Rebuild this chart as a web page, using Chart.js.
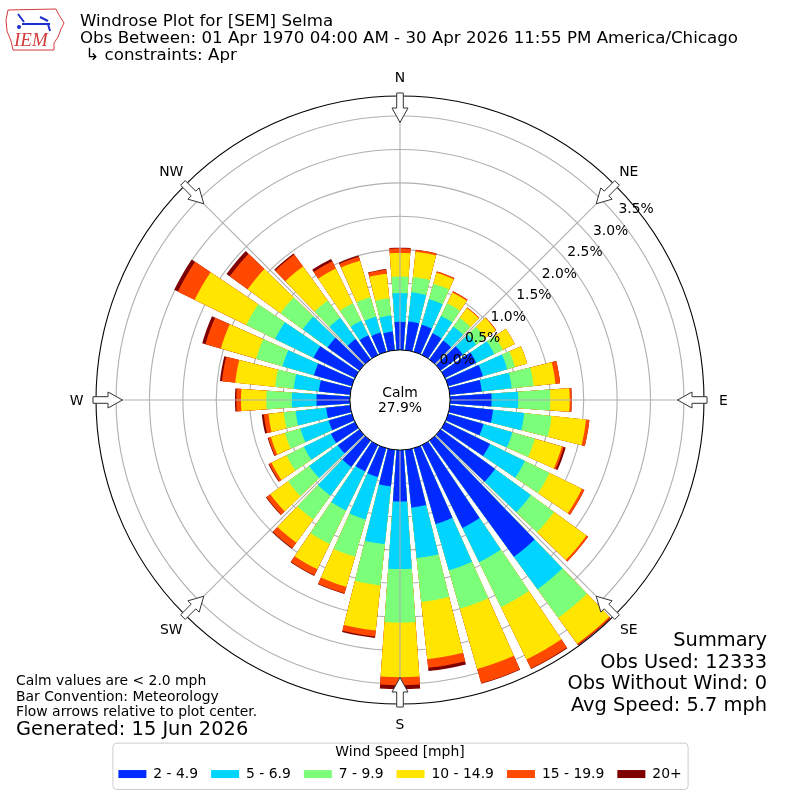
<!DOCTYPE html>
<html>
<head>
<meta charset="utf-8">
<title>Windrose Plot for [SEM] Selma</title>
<script src="https://cdn.jsdelivr.net/npm/chart.js@4.4.1/dist/chart.umd.min.js"></script>
<style>
  html, body { margin: 0; padding: 0; background: #fff; }
  body { width: 800px; height: 800px; position: relative; overflow: hidden; font-family: "DejaVu Sans", sans-serif; color: #000; }
  #rose { position: absolute; left: 0; top: 0; }
  .note { position: absolute; white-space: pre; }
  #logo { position: absolute; left: 4px; top: 4px; }
  #header { left: 80px; top: 12px; font-size: 16.67px; line-height: 17px; }
  #footnotes { left: 16px; top: 673px; font-size: 13.9px; line-height: 15.5px; }
  #generated { left: 16px; top: 718px; font-size: 19.4px; line-height: 21.5px; }
  #summary { right: 33px; top: 629px; font-size: 19.4px; line-height: 21.5px; text-align: right; }
</style>
</head>
<body>
<canvas id="rose" width="800" height="800"></canvas>

<svg id="logo" width="64" height="48" viewBox="0 0 64 48">
  <path d="M4 6 L52 5 L55 11 L60 19 L57 25 L54 33 L50 39 L50 46 L9 46 L7 37 L3 27 L2 16 Z" fill="none" stroke="#d23b3b" stroke-width="1"/>
  <path d="M14 10 L20 18 M18 20 L46 20 M36 13 L44 17 M44 20 L46 27" fill="none" stroke="#1e2fd0" stroke-width="2"/>
  <circle cx="15" cy="23" r="2" fill="#1e2fd0"/>
  <text x="10" y="42" font-family="Liberation Serif, serif" font-style="italic" font-size="19" fill="#d23b3b">IEM</text>
</svg>

<div id="header" class="note">Windrose Plot for [SEM] Selma
Obs Between: 01 Apr 1970 04:00 AM - 30 Apr 2026 11:55 PM America/Chicago
 ↳ constraints: Apr</div>

<div id="footnotes" class="note">Calm values are &lt; 2.0 mph
Bar Convention: Meteorology
Flow arrows relative to plot center.</div>
<div id="generated" class="note">Generated: 15 Jun 2026</div>

<div id="summary" class="note"></div>

<script>
// wind directions (degrees, meteorological) and frequency (%) per speed bin
const directions = [0, 10, 20, 30, 40, 50, 60, 70, 80, 90, 100, 110, 120, 130, 140, 150, 160, 170,
                    180, 190, 200, 210, 220, 230, 240, 250, 260, 270, 280, 290, 300, 310, 320, 330, 340, 350];

const speed2to5 = [0.42, 0.43, 0.42, 0.36, 0.35, 0.41, 0.52, 0.54, 0.48, 0.62, 0.65, 0.55, 0.75, 1.01, 2.15, 1.38, 1.18, 0.87,
                   0.77, 0.55, 0.45, 0.44, 0.49, 0.40, 0.40, 0.36, 0.36, 0.50, 0.47, 0.59, 0.69, 0.59, 0.38, 0.33, 0.30, 0.28];
const speed5to7 = [0.43, 0.44, 0.40, 0.29, 0.26, 0.25, 0.30, 0.38, 0.45, 0.40, 0.47, 0.45, 0.58, 0.66, 0.60, 0.57, 0.72, 0.76,
                   1.01, 0.87, 0.66, 0.65, 0.53, 0.53, 0.45, 0.44, 0.46, 0.37, 0.38, 0.49, 0.64, 0.46, 0.39, 0.24, 0.25, 0.24];
const speed7to10 = [0.25, 0.23, 0.24, 0.21, 0.16, 0.17, 0.14, 0.12, 0.33, 0.48, 0.41, 0.35, 0.41, 0.43, 0.53, 0.75, 0.60, 0.66,
                    0.80, 0.62, 0.58, 0.56, 0.44, 0.39, 0.29, 0.24, 0.18, 0.38, 0.28, 0.41, 0.48, 0.41, 0.32, 0.29, 0.30, 0.26];
const speed10to15 = [0.35, 0.38, 0.17, 0.18, 0.18, 0.19, 0.20, 0.19, 0.33, 0.29, 0.52, 0.42, 0.54, 0.60, 0.48, 0.87, 0.94, 0.86,
                     0.82, 0.68, 0.47, 0.42, 0.43, 0.33, 0.25, 0.22, 0.23, 0.38, 0.60, 0.55, 0.86, 0.61, 0.63, 0.58, 0.57, 0.37];
const speed15to20 = [0.07, 0.03, 0.02, 0.02, 0.01, 0.01, 0.00, 0.00, 0.07, 0.03, 0.05, 0.03, 0.04, 0.03, 0.02, 0.15, 0.22, 0.13,
                     0.12, 0.09, 0.10, 0.10, 0.10, 0.07, 0.04, 0.04, 0.07, 0.07, 0.20, 0.24, 0.28, 0.33, 0.22, 0.12, 0.06, 0.06];
const speed20up = [0.01, 0.00, 0.00, 0.00, 0.00, 0.00, 0.00, 0.00, 0.00, 0.00, 0.00, 0.03, 0.00, 0.00, 0.01, 0.01, 0.01, 0.05,
                   0.06, 0.02, 0.01, 0.01, 0.01, 0.01, 0.01, 0.01, 0.03, 0.02, 0.03, 0.05, 0.06, 0.06, 0.02, 0.04, 0.02, 0.01];

const speedBins = ["2 - 4.9", "5 - 6.9", "7 - 9.9", "10 - 14.9", "15 - 19.9", "20+"];
const binColors = ["#002aff", "#00d4ff", "#7bff7b", "#ffe500", "#ff4800", "#7f0000"];
const ringTicks = [0, 0.5, 1, 1.5, 2, 2.5, 3, 3.5, 3.8];
const compassLabels = ["N", "NE", "E", "SE", "S", "SW", "W", "NW"];
const calmPercent = 27.9;
const obsUsed = 12333;
const obsWithoutWind = 0;
const avgSpeed = 5.7;

document.getElementById("summary").textContent =
  `Summary\nObs Used: ${obsUsed}\nObs Without Wind: ${obsWithoutWind}\nAvg Speed: ${avgSpeed} mph`;

const FONT = "'DejaVu Sans', sans-serif";
Chart.defaults.font.family = FONT;
Chart.defaults.color = "#000";

const speedSeries = [speed2to5, speed5to7, speed7to10, speed10to15, speed15to20, speed20up];

// stacked totals: each dataset reaches the top of its own speed bin
const stacked = speedSeries.map((_, level) =>
  directions.map((d, i) => speedSeries.slice(0, level + 1).reduce((sum, s) => sum + s[i], 0)));

// wedges go clockwise from north: half of N, then gap/bar pairs, closing with the other half of N
function toWedges(values) {
  const out = [values[0]];
  for (let i = 1; i < values.length; i++) out.push(0, values[i]);
  out.push(0, values[0]);
  return out;
}
const wedgeLabels = toWedges(directions.map(String)).map(v => (v === 0 ? "" : v));
const lastWedge = wedgeLabels.length - 1;
const barDeg = 8, gapDeg = 2;
function wedgeAngle(ctx) {
  const i = ctx.dataIndex;
  if (i === 0 || i === lastWedge) return barDeg / 2;
  return i % 2 ? gapDeg : barDeg;
}

function drawArrow(ctx, cx, cy, deg, rTail, rNeck, rTip, shaftHalf, headHalf) {
  const a = deg * Math.PI / 180;
  const ux = Math.sin(a), uy = -Math.cos(a);
  const px = -uy, py = ux;
  const pt = (r, w) => [cx + ux * r + px * w, cy + uy * r + py * w];
  const pts = [pt(rTail, -shaftHalf), pt(rTail, shaftHalf), pt(rNeck, shaftHalf), pt(rNeck, headHalf),
               pt(rTip, 0), pt(rNeck, -headHalf), pt(rNeck, -shaftHalf)];
  ctx.beginPath();
  pts.forEach(([x, y], k) => (k ? ctx.lineTo(x, y) : ctx.moveTo(x, y)));
  ctx.closePath();
  ctx.fillStyle = "#fff";
  ctx.fill();
  ctx.strokeStyle = "#333";
  ctx.lineWidth = 1;
  ctx.stroke();
}

const roseDecor = {
  id: "roseDecor",
  beforeDraw(chart) {
    // legend frame
    const lg = chart.legend;
    if (!lg || !lg.legendHitBoxes || !lg.legendHitBoxes.length) return;
    const boxes = lg.legendHitBoxes;
    const left = Math.min(...boxes.map(b => b.left)) - 6;
    const right = Math.max(...boxes.map(b => b.left + b.width)) + 6;
    const top = lg.top + 1.5, bottom = lg.bottom - 2;
    const ctx = chart.ctx;
    ctx.save();
    ctx.beginPath();
    if (ctx.roundRect) ctx.roundRect(left + 0.5, top + 0.5, right - left, bottom - top, 4);
    else ctx.rect(left + 0.5, top + 0.5, right - left, bottom - top);
    ctx.fillStyle = "#fff";
    ctx.fill();
    ctx.strokeStyle = "#cccccc";
    ctx.lineWidth = 1;
    ctx.stroke();
    ctx.restore();
  },
  afterDraw(chart) {
    const s = chart.scales.r;
    const ctx = chart.ctx;
    const cx = s.xCenter, cy = s.yCenter, R = s.drawingArea;
    const rad = d => d * Math.PI / 180;
    ctx.save();

    // direction spokes
    ctx.strokeStyle = "#b0b0b0";
    ctx.lineWidth = 1.1;
    compassLabels.forEach((_, k) => {
      const a = rad(k * 45);
      ctx.beginPath();
      ctx.moveTo(cx, cy);
      ctx.lineTo(cx + R * Math.sin(a), cy - R * Math.cos(a));
      ctx.stroke();
    });

    // flow arrows
    compassLabels.forEach((_, k) => drawArrow(ctx, cx, cy, k * 45, R + 3, R - 12, R - 26.5, 3.3, 8));

    // calm circle
    const r0 = s.getDistanceFromCenterForValue(0);
    ctx.beginPath();
    ctx.arc(cx, cy, r0, 0, Math.PI * 2);
    ctx.fillStyle = "#fff";
    ctx.fill();
    ctx.strokeStyle = "#000";
    ctx.lineWidth = 1;
    ctx.stroke();

    ctx.fillStyle = "#000";
    ctx.font = `13.9px ${FONT}`;
    ctx.textAlign = "center";
    ctx.textBaseline = "alphabetic";
    ctx.fillText("Calm", cx, cy - 3.3);
    ctx.fillText(`${calmPercent.toFixed(1)}%`, cx, cy + 12.3);

    // radial tick labels
    const la = rad(50);
    ctx.textAlign = "left";
    ringTicks.filter(v => v <= 3.5).forEach(v => {
      const r = s.getDistanceFromCenterForValue(v);
      ctx.fillText(`${v.toFixed(1)}%`, cx + r * Math.sin(la) + 1, cy - r * Math.cos(la) - 4);
    });

    // compass labels
    ctx.textAlign = "center";
    compassLabels.forEach((lab, k) => {
      const a = rad(k * 45);
      const rr = R + 19.5;
      ctx.fillText(lab, cx + rr * Math.sin(a), cy - rr * Math.cos(a) + 5);
    });
    ctx.restore();
  }
};

new Chart(document.getElementById("rose").getContext("2d"), {
  type: "polarArea",
  data: {
    labels: wedgeLabels,
    datasets: speedBins.map((label, level) => ({
      label,
      data: toWedges(stacked[level]),
      backgroundColor: binColors[level],
      borderWidth: 0,
      angle: wedgeAngle
    }))
  },
  options: {
    responsive: false,
    animation: false,
    events: [],
    layout: { padding: { top: 59, bottom: 9, left: 96, right: 96 } },
    scales: {
      r: {
        min: -0.75,
        max: 3.8,
        startAngle: 0,
        afterBuildTicks: axis => { axis.ticks = ringTicks.map(v => ({ value: v })); },
        ticks: { display: false, stepSize: 0.5, z: 1 },
        grid: {
          circular: true,
          color: ctx => (ctx.tick && ctx.tick.value >= 3.8 ? "#000" : "#b0b0b0"),
          lineWidth: 1.1
        },
        angleLines: { display: false },
        pointLabels: { display: false }
      }
    },
    plugins: {
      tooltip: { enabled: false },
      legend: {
        position: "bottom",
        onClick: () => {},
        title: {
          display: true,
          text: "Wind Speed [mph]",
          font: { size: 13.9 },
          padding: { top: 4, bottom: -7.7 }
        },
        labels: {
          boxWidth: 28,
          boxHeight: 8,
          padding: 13,
          font: { size: 13.9 },
          color: "#000",
          generateLabels: chart => chart.data.datasets.map((ds, i) => ({
            text: ds.label,
            fillStyle: ds.backgroundColor,
            strokeStyle: ds.backgroundColor,
            lineWidth: 0,
            hidden: false,
            datasetIndex: i
          }))
        }
      }
    }
  },
  plugins: [roseDecor]
});
</script>
</body>
</html>
